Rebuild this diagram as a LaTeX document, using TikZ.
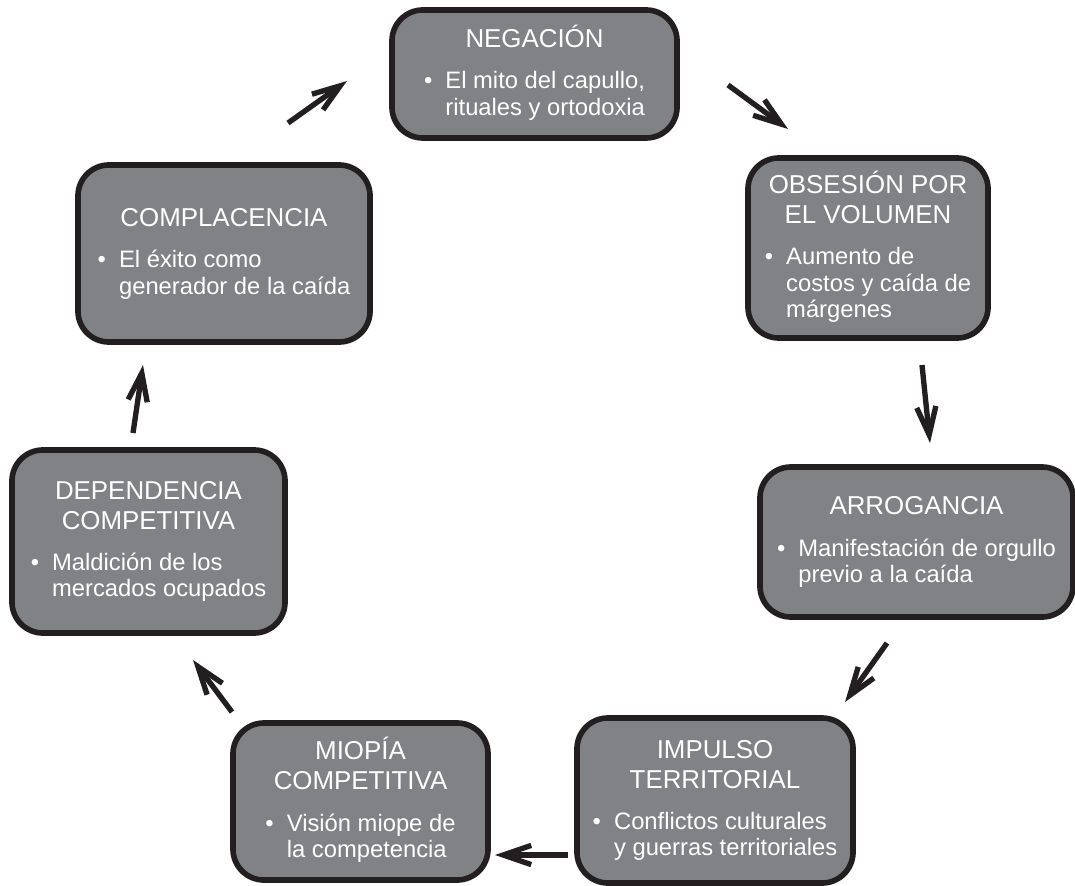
\documentclass[tikz,border=0pt]{standalone}
\usepackage{fontspec}
\setmainfont{Liberation Sans}
\usepackage{tikz}
\usetikzlibrary{arrows.meta}
\usepackage{xcolor}
\definecolor{stagefill}{RGB}{128,130,133}
\definecolor{stageline}{RGB}{35,31,32}
\newcommand{\stagetitle}{\fontsize{18.4pt}{21.3pt}\selectfont}
\newcommand{\stagebody}{\fontsize{16.9pt}{18.8pt}\selectfont}
\newcommand{\stagetext}[2]{%
  {\stagetitle\begin{tabular}[b]{@{}c@{}}#1\end{tabular}}\\[9pt]%
  \begin{tabular}[t]{@{}l@{\hspace{0.55em}}l@{}}\textbullet&%
  \begin{tabular}[t]{@{}l@{}}#2\end{tabular}\end{tabular}}
\tikzset{
  % Etapa (caja gris)
  stage/.style      = {draw=stageline, line width=4pt, fill=stagefill,
                       rounded corners=22pt, text=white, font=\stagebody,
                       align=center, inner sep=0pt},
  % Flechas del ciclo
  cyclearrow/.style = {draw=stageline, line width=3.8pt,
                       -{Straight Barb[length=7mm, width=4.8mm]}},
}
\begin{document}
\begin{tikzpicture}[x=0.025cm, y=-0.025cm]
  \useasboundingbox (0,0) rectangle (1075,885);
  % Etapas
  \node[stage, minimum width=7.125cm, minimum height=3.2cm] (neg) at (534.5,74)
    {\stagetext{NEGACIÓN}{El mito del capullo,\\rituales y ortodoxia}};
  \node[stage, minimum width=6cm, minimum height=4.5cm] (obs) at (868,248)
    {\stagetext{OBSESIÓN POR\\EL VOLUMEN}{Aumento de\\costos y caída de\\márgenes}};
  \node[stage, minimum width=7.825cm, minimum height=3.75cm] (arr) at (916.5,542)
    {\stagetext{ARROGANCIA}{Manifestación de orgullo\\previo a la caída}};
  \node[stage, minimum width=6.9cm, minimum height=4.125cm] (imp) at (715,800.5)
    {\stagetext{IMPULSO\\TERRITORIAL}{Conflictos culturales\\y guerras territoriales}};
  \node[stage, minimum width=6.375cm, minimum height=3.925cm] (mio) at (360.5,801.5)
    {\stagetext{MIOPÍA\\COMPETITIVA}{Visión miope de\\la competencia}};
  \node[stage, minimum width=6.825cm, minimum height=4.575cm] (dep) at (148.5,541.5)
    {\stagetext{DEPENDENCIA\\COMPETITIVA}{Maldición de los\\mercados ocupados}};
  \node[stage, minimum width=7.3cm, minimum height=4.425cm] (com) at (224,253.5)
    {\stagetext{COMPLACENCIA}{El éxito como\\generador de la caída}};
  % Extremos de las flechas
  \coordinate (comneg1) at (288,123); \coordinate (comneg2) at (347,81);
  \coordinate (negobs1) at (728,85);  \coordinate (negobs2) at (788,129);
  \coordinate (obsarr1) at (922,365); \coordinate (obsarr2) at (930,443);
  \coordinate (arrimp1) at (887,643); \coordinate (arrimp2) at (845,702);
  \coordinate (impmio1) at (568,855); \coordinate (impmio2) at (495,855);
  \coordinate (miodep1) at (232,712); \coordinate (miodep2) at (193,660);
  \coordinate (depcom1) at (133,433); \coordinate (depcom2) at (143,365);
  % Flechas
  \draw[cyclearrow] (comneg1) -- (comneg2);
  \draw[cyclearrow] (negobs1) -- (negobs2);
  \draw[cyclearrow] (obsarr1) -- (obsarr2);
  \draw[cyclearrow] (arrimp1) -- (arrimp2);
  \draw[cyclearrow] (impmio1) -- (impmio2);
  \draw[cyclearrow] (miodep1) -- (miodep2);
  \draw[cyclearrow] (depcom1) -- (depcom2);
\end{tikzpicture}
\end{document}
